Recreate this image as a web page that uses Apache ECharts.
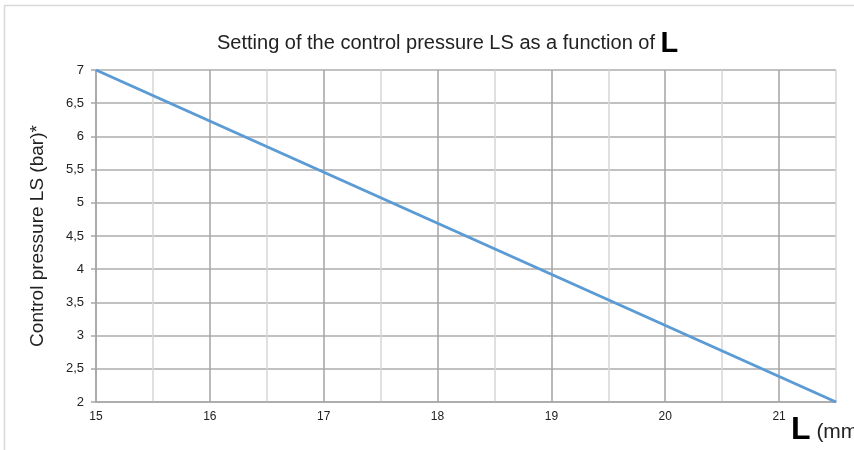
<!DOCTYPE html>
<html>
<head>
<meta charset="utf-8">
<script src="https://cdn.jsdelivr.net/npm/echarts@6/dist/echarts.min.js"></script>
<style>
    html, body { margin: 0; padding: 0; background: #fff; }
    #main { width: 854px; height: 450px; }
</style>
</head>
<body>
<div id="main"></div>
<script>
// L (mm) -> control pressure LS (bar)
var lengthMm = [15, 21.5];
var pressureBar = [7, 2];
var xLabels = [15, 16, 17, 18, 19, 20, 21];
var yLabels = ['2', '2,5', '3', '3,5', '4', '4,5', '5', '5,5', '6', '6,5', '7'];

var font = '"Liberation Sans", Arial, sans-serif';

var myChart = echarts.init(document.getElementById('main'));

var lineData = lengthMm.map(function(x, i){
    return [x, pressureBar[i]];
});

var option = {
    animation: false,
    backgroundColor: '#fff',
    textStyle: { fontFamily: font },
    title: {
        left: 212,
        top: 24,
        text: '{a|Setting of the control pressure LS as a function of }{b|L}',
        textStyle: {
            fontWeight: 'normal',
            rich: {
                a: { fontFamily: font, fontSize: 20, fontWeight: 'normal', color: '#222' },
                b: { fontFamily: font, fontSize: 29, fontWeight: 'bold', color: '#000' }
            }
        }
    },
    grid: {
        left: 96,
        right: 18,
        top: 70,
        bottom: 48
    },
    xAxis: {
        type: 'value',
        min: 15,
        max: 21.5,
        interval: 0.5,
        axisLine: { lineStyle: { color: '#a6a6a6', width: 1.5 } },
        axisTick: { show: false },
        axisLabel: {
            color: '#222',
            fontSize: 12,
            fontFamily: font,
            margin: 9,
            formatter: function(v){
                // only integer ticks get a label
                return xLabels.indexOf(v) >= 0 ? String(v) : '';
            }
        },
        splitLine: {
            show: true,
            lineStyle: { color: ['#a3a3a3', '#d6d6d6'], width: 1.5 }
        }
    },
    yAxis: {
        type: 'value',
        min: 2,
        max: 7,
        interval: 0.5,
        name: 'Control pressure LS (bar)*',
        nameLocation: 'middle',
        nameRotate: 90,
        nameGap: 49,
        nameTextStyle: { fontFamily: font, fontSize: 19, color: '#222' },
        axisLine: { show: true, lineStyle: { color: '#a6a6a6', width: 1.5 } },
        axisTick: { show: true, length: 5, lineStyle: { color: '#a6a6a6', width: 1.5 } },
        axisLabel: {
            color: '#222',
            fontSize: 13,
            fontFamily: font,
            margin: 12,
            formatter: function(v){
                return yLabels[Math.round((v - 2) * 2)];
            }
        },
        splitLine: {
            show: true,
            lineStyle: { color: '#acacac', width: 1.5 }
        }
    },
    graphic: [
        {   // outer chart frame
            type: 'rect',
            shape: { x: 4.5, y: 5.5, width: 900, height: 500 },
            style: { fill: 'none', stroke: '#d9d9d9', lineWidth: 1.5 },
            silent: true
        },
        {   // axis unit label, cut at the right edge like the original
            type: 'text',
            left: 791,
            top: 414,
            style: {
                text: '{l|L}{u| (mm)}',
                rich: {
                    l: { fontFamily: font, fontSize: 32, fontWeight: 'bold', fill: '#000' },
                    u: { fontFamily: font, fontSize: 21, fill: '#222', verticalAlign: 'bottom', padding: [0, 0, 3, 0] }
                }
            }
        }
    ],
    series: [
        {
            name: 'LS',
            type: 'line',
            symbol: 'none',
            lineStyle: { color: '#5b9bd5', width: 3 },
            data: lineData
        }
    ]
};
myChart.setOption(option);
</script>
</body>
</html>
